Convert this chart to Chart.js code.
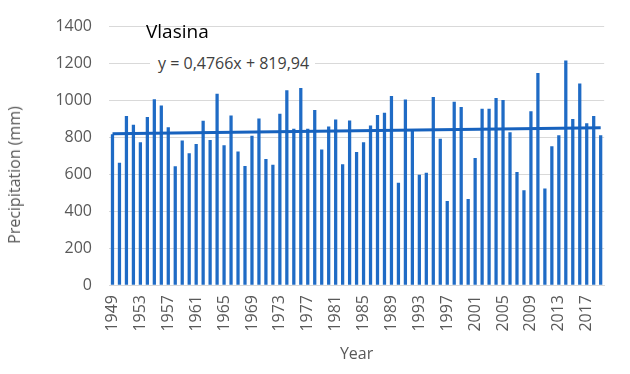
<!DOCTYPE html>
<html>
<head>
<meta charset="utf-8">
<script src="https://cdn.jsdelivr.net/npm/chart.js@4"></script>
<style>
  body { margin: 0; background: #fff; }
  .wrap { position: relative; width: 630px; height: 374px; font-family: "Open Sans", sans-serif; }
  .station { position: absolute; left: 146px; top: 18px; font-size: 19px; color: #000; }
  .eq { position: absolute; left: 150px; top: 50px; padding: 2px 6px 4px 8px; background: #fff; font-size: 16px; color: #404040; }
  .ytitle { position: absolute; left: 14px; top: 175px; transform: translate(-50%, -50%) rotate(-90deg); white-space: nowrap; font-size: 16px; color: #595959; }
</style>
</head>
<body>
<div class="wrap">
  <canvas id="myChart" width="630" height="374"></canvas>
  <div class="station">Vlasina</div>
  <div class="eq">y = 0,4766x + 819,94</div>
  <div class="ytitle">Precipitation (mm)</div>
</div>
<script>
// annual precipitation, 1949-2019
const years = [];
for (let y = 1949; y <= 2019; y++) years.push(String(y));

const precip = [
  815, 660, 914, 866, 772, 909, 1005, 971, 853, 641,
  781, 712, 762, 888, 784, 1034, 755, 917, 721, 643,
  807, 900, 681, 650, 926, 1053, 845, 1065, 845, 947,
  733, 857, 895, 652, 890, 719, 771, 862, 919, 931,
  1022, 552, 1003, 833, 595, 607, 1017, 790, 453, 991,
  962, 464, 686, 953, 953, 1012, 1000, 826, 610, 512,
  940, 1147, 521, 750, 810, 1215, 898, 1090, 874, 914,
  810
];

// linear trend, read at the first and last year
const trendStart = 820;
const trendEnd = 852;
const trend = years.map((_, i) => i === 0 ? trendStart : (i === years.length - 1 ? trendEnd : null));

const yTicks = [0, 200, 400, 600, 800, 1000, 1200, 1400];

const blue = "#1f6bc5";
const grey = "#595959";

const data = {
  labels: years,
  datasets: [
    {
      type: "line",
      label: "Trend",
      data: trend,
      borderColor: "#1762be",
      borderWidth: 3,
      pointRadius: 0,
      spanGaps: true,
      order: 0,
    },
    {
      type: "bar",
      label: "Precipitation",
      data: precip,
      backgroundColor: blue,
      barThickness: 2.6,
      order: 1,
    },
  ],
};

const config = {
  data: data,
  options: {
    responsive: false,
    devicePixelRatio: 1,
    animation: false,
    layout: { padding: { left: 0, right: 18, top: 14, bottom: 0 } },
    plugins: { legend: { display: false }, tooltip: { enabled: false } },
    scales: {
      x: {
        grid: { display: false, drawTicks: false },
        border: { color: "#d9d9d9" },
        ticks: {
          autoSkip: false,
          minRotation: 90,
          maxRotation: 90,
          padding: 10,
          color: grey,
          font: { family: "Open Sans", size: 16 },
          callback: (v, i) => (i % 4 === 0 ? years[i] : ""),
        },
        title: {
          display: true,
          text: "Year",
          color: grey,
          font: { family: "Open Sans", size: 16 },
          padding: { top: 0, bottom: 10 },
        },
        afterFit: (scale) => { scale.height = 89; },
      },
      y: {
        min: yTicks[0],
        max: yTicks[yTicks.length - 1],
        grid: { color: "#d9d9d9", drawTicks: false },
        border: { display: false },
        ticks: {
          stepSize: 200,
          padding: 17,
          color: grey,
          font: { family: "Open Sans", size: 16 },
          callback: (v) => String(v),
        },
        afterFit: (scale) => { scale.width = 109; },
      },
    },
  },
};

const myChart = new Chart(document.getElementById("myChart"), config);
</script>
</body>
</html>
